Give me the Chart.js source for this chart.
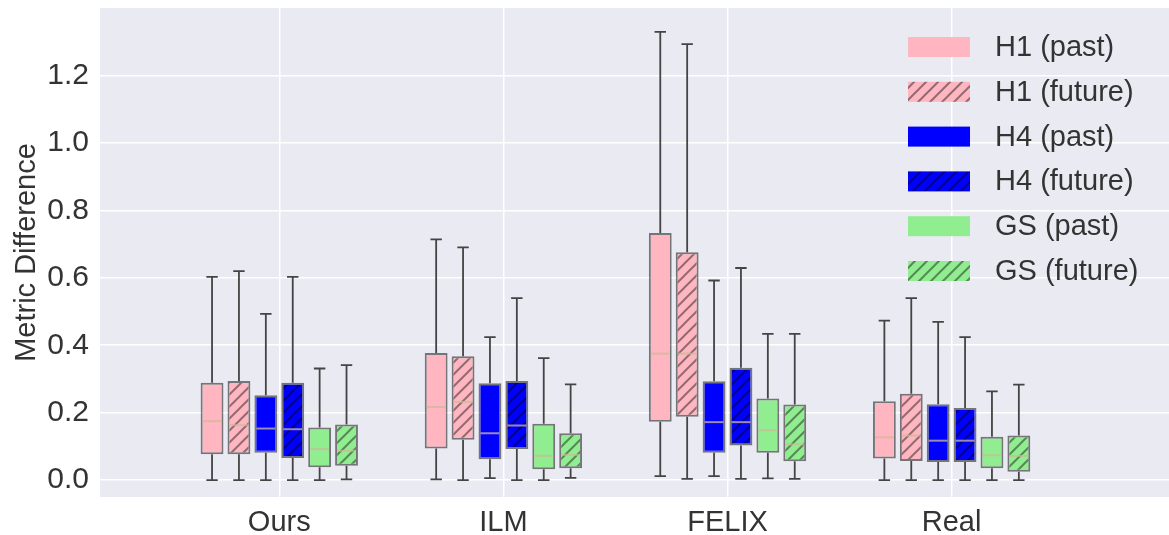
<!DOCTYPE html>
<html>
<head>
<meta charset="utf-8">
<script src="https://cdn.jsdelivr.net/npm/chart.js@4.4.1/dist/chart.umd.min.js"></script>
<style>
  html, body { margin: 0; padding: 0; background: #fff; }
</style>
</head>
<body>
<canvas id="chart" width="1169" height="535"></canvas>
<script>
// ----- DATI -----
const categories = ['Ours', 'ILM', 'FELIX', 'Real'];
const yTicks = [0.0, 0.2, 0.4, 0.6, 0.8, 1.0, 1.2];
const seriesNames = ['H1 (past)', 'H1 (future)', 'H4 (past)', 'H4 (future)', 'GS (past)', 'GS (future)'];

// [min, q1, median, q3, max] per categoria
const h1Past   = [[0.000, 0.077, 0.175, 0.289, 0.603], [0.002, 0.094, 0.217, 0.377, 0.714], [0.012, 0.173, 0.375, 0.733, 1.329], [0.000, 0.064, 0.127, 0.234, 0.473]];
const h1Future = [[0.000, 0.077, 0.163, 0.294, 0.620], [0.000, 0.120, 0.232, 0.367, 0.690], [0.004, 0.188, 0.375, 0.676, 1.293], [0.000, 0.057, 0.132, 0.256, 0.540]];
const h4Past   = [[0.000, 0.081, 0.153, 0.252, 0.493], [0.006, 0.062, 0.139, 0.287, 0.424], [0.012, 0.081, 0.172, 0.293, 0.592], [0.000, 0.054, 0.117, 0.225, 0.469]];
const h4Future = [[0.000, 0.066, 0.151, 0.289, 0.603], [0.000, 0.092, 0.162, 0.294, 0.540], [0.004, 0.103, 0.172, 0.333, 0.629], [0.000, 0.054, 0.117, 0.214, 0.424]];
const gsPast   = [[0.000, 0.038, 0.092, 0.156, 0.331], [0.000, 0.032, 0.072, 0.167, 0.362], [0.005, 0.081, 0.148, 0.242, 0.434], [0.000, 0.035, 0.074, 0.129, 0.263]];
const gsFuture = [[0.002, 0.043, 0.087, 0.165, 0.341], [0.007, 0.035, 0.075, 0.139, 0.284], [0.004, 0.056, 0.106, 0.224, 0.434], [0.000, 0.025, 0.072, 0.132, 0.283]];

const seriesStats = [h1Past, h1Future, h4Past, h4Future, gsPast, gsFuture];
const faceColors = ['#ffb6c1', '#ffb6c1', '#0000ff', '#0000ff', '#90ee90', '#90ee90'];
const hatched = [false, true, false, true, false, true];

// ----- STILE -----
const BG = '#eaeaf2';
const TEXT = '#333333';
const EDGE = 'rgba(0,0,0,0.5)';
const WHISKER = '#444444';
const MEDIAN = 'rgba(205,185,150,0.75)';
const FONT = 'Liberation Sans, Arial, sans-serif';
const GROUP_STEP = 0.12; // distanza tra box nello stesso gruppo

// pattern "//" per le serie future
function makeFill(color, hatch) {
    if (!hatch) return color;
    const s = 12;
    const c = document.createElement('canvas');
    c.width = s; c.height = s;
    const g = c.getContext('2d');
    g.fillStyle = color;
    g.fillRect(0, 0, s, s);
    g.strokeStyle = 'rgba(0,0,0,0.42)';
    g.lineWidth = 2;
    g.beginPath();
    g.moveTo(-1, s + 1); g.lineTo(s + 1, -1);
    g.moveTo(-1, 1); g.lineTo(1, -1);
    g.moveTo(s - 1, s + 1); g.lineTo(s + 1, s - 1);
    g.stroke();
    return g.createPattern(c, 'repeat');
}

const datasets = seriesNames.map((name, s) => {
    const offset = (s - (seriesNames.length - 1) / 2) * GROUP_STEP;
    return {
        label: name,
        stats: seriesStats[s],
        data: seriesStats[s].map((st, i) => ({ x: i + offset, y: [st[1], st[3]] })),
        backgroundColor: makeFill(faceColors[s], hatched[s]),
        borderColor: EDGE,
        borderWidth: 2,
        borderSkipped: false,
        grouped: false,
        categoryPercentage: 1.0,
        barPercentage: 0.85
    };
});

// sfondo area grafico
const bgPlugin = {
    id: 'bg',
    beforeDraw(chart) {
        const { ctx, chartArea: a } = chart;
        ctx.save();
        ctx.fillStyle = BG;
        ctx.fillRect(a.left, a.top, a.right - a.left, a.bottom - a.top);
        ctx.restore();
    }
};

// baffi, cappucci e mediane
const whiskerPlugin = {
    id: 'whiskers',
    afterDatasetsDraw(chart) {
        const ctx = chart.ctx;
        const yScale = chart.scales.y;
        ctx.save();
        chart.data.datasets.forEach((ds, di) => {
            const meta = chart.getDatasetMeta(di);
            meta.data.forEach((bar, i) => {
                const [lo, q1, med, q3, hi] = ds.stats[i];
                const x = bar.x;
                const half = bar.width / 2;
                const cap = half / 2;
                ctx.strokeStyle = WHISKER;
                ctx.lineWidth = 1.8;
                ctx.beginPath();
                ctx.moveTo(x, yScale.getPixelForValue(q3));
                ctx.lineTo(x, yScale.getPixelForValue(hi));
                ctx.moveTo(x, yScale.getPixelForValue(q1));
                ctx.lineTo(x, yScale.getPixelForValue(lo));
                ctx.moveTo(x - cap, yScale.getPixelForValue(hi));
                ctx.lineTo(x + cap, yScale.getPixelForValue(hi));
                ctx.moveTo(x - cap, yScale.getPixelForValue(lo));
                ctx.lineTo(x + cap, yScale.getPixelForValue(lo));
                ctx.stroke();
                ctx.strokeStyle = MEDIAN;
                ctx.lineWidth = 2;
                ctx.beginPath();
                ctx.moveTo(x - half + 2, yScale.getPixelForValue(med));
                ctx.lineTo(x + half - 2, yScale.getPixelForValue(med));
                ctx.stroke();
            });
        });
        ctx.restore();
    }
};

// legenda dentro l'area del grafico, in alto a destra
const legendPlugin = {
    id: 'insideLegend',
    afterDraw(chart) {
        const { ctx, chartArea: a } = chart;
        const boxW = 62, boxH = 20, rowH = 44.8;
        const left = a.right - 261;
        const firstY = a.top + 39;
        ctx.save();
        ctx.font = '29px ' + FONT;
        ctx.textBaseline = 'middle';
        ctx.textAlign = 'left';
        chart.data.datasets.forEach((ds, i) => {
            const cy = firstY + i * rowH;
            ctx.fillStyle = ds.backgroundColor;
            ctx.fillRect(left, cy - boxH / 2, boxW, boxH);
            ctx.fillStyle = TEXT;
            ctx.fillText(ds.label, left + 87, cy + 1);
        });
        ctx.restore();
    }
};

new Chart(document.getElementById('chart'), {
    type: 'bar',
    data: { datasets },
    options: {
        responsive: false,
        animation: false,
        layout: { padding: { top: 8, right: 0, left: 0, bottom: 0 } },
        plugins: {
            legend: { display: false },
            tooltip: { enabled: false }
        },
        scales: {
            x: {
                type: 'linear',
                min: -0.80,
                max: 3.97,
                offset: false,
                afterBuildTicks: (axis) => { axis.ticks = categories.map((c, i) => ({ value: i })); },
                afterFit: (axis) => { axis.height = 38; axis.paddingLeft = 0; axis.paddingRight = 0; },
                ticks: {
                    callback: (v) => categories[v],
                    color: TEXT,
                    font: { family: FONT, size: 29 },
                    padding: 9,
                    maxRotation: 0
                },
                grid: { color: '#ffffff', lineWidth: 1.5, drawTicks: false, offset: false },
                border: { display: false }
            },
            y: {
                min: -0.05,
                max: 1.40,
                afterBuildTicks: (axis) => { axis.ticks = yTicks.map(v => ({ value: v })); },
                afterFit: (axis) => { axis.width = 100; axis.paddingTop = 0; axis.paddingBottom = 0; },
                ticks: {
                    callback: (v) => v.toFixed(1),
                    color: TEXT,
                    font: { family: FONT, size: 30 },
                    padding: 11
                },
                grid: { color: '#ffffff', lineWidth: 1.5, drawTicks: false },
                border: { display: false },
                title: {
                    display: true,
                    text: 'Metric Difference',
                    color: TEXT,
                    font: { family: FONT, size: 29 },
                    padding: { top: 10, bottom: 0 }
                }
            }
        }
    },
    plugins: [bgPlugin, whiskerPlugin, legendPlugin]
});
</script>
</body>
</html>
